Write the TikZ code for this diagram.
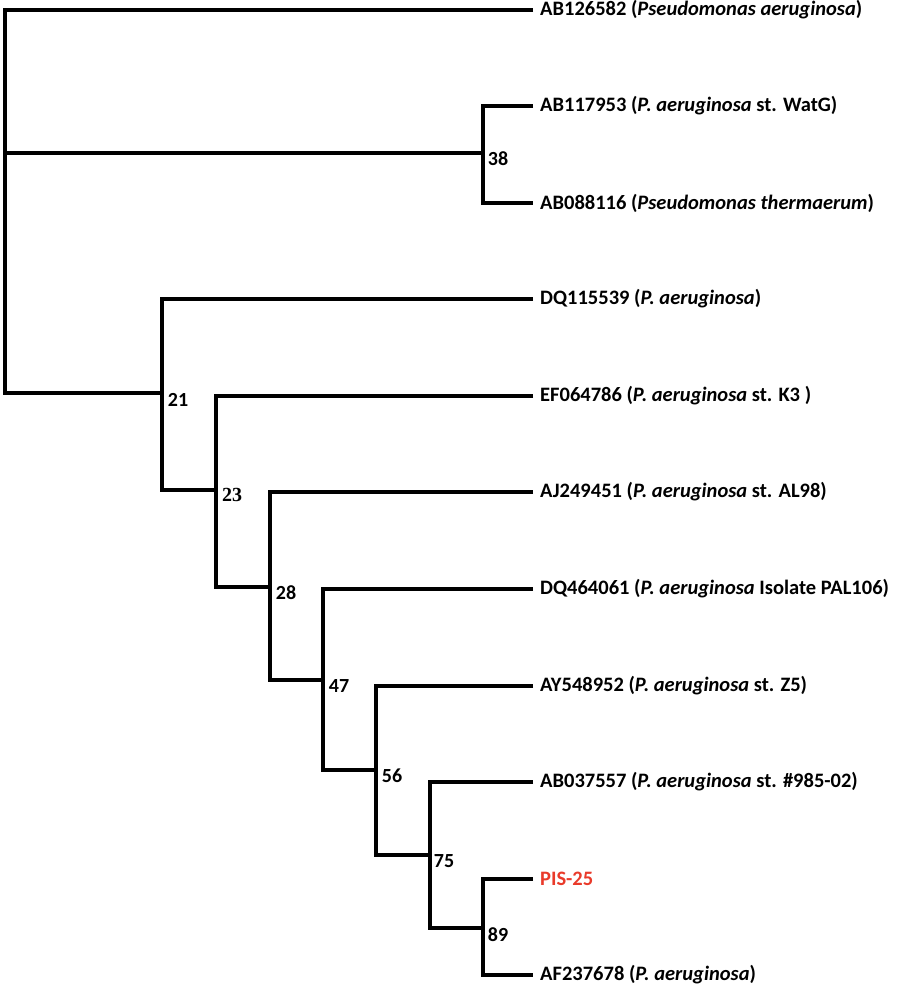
\documentclass[tikz,border=0pt]{standalone}
\usepackage{fontspec}
\setmainfont{Carlito}
\newfontfamily\timesnum{Liberation Serif}
\definecolor{pisred}{RGB}{233,58,42}
\begin{document}
\begin{tikzpicture}[x=1pt,y=-1pt,
  br/.style={line width=3.8pt},
  leaf/.style={anchor=west,inner xsep=7pt,inner ysep=0pt,font=\fontsize{20.5}{23}\selectfont\bfseries},
  bs/.style={anchor=center,inner sep=0pt,font=\fontsize{20}{22}\selectfont\bfseries}]
\useasboundingbox (0,0) rectangle (900,992);
% internal nodes
\coordinate (root) at (5,153);
\coordinate (n38) at (483,153);
\coordinate (n21) at (162,393);
\coordinate (n23) at (216,490);
\coordinate (n28) at (270,587);
\coordinate (n47) at (323,680);
\coordinate (n56) at (376,770);
\coordinate (n75) at (430,855);
\coordinate (n89) at (483,928);
% leaves
\node[leaf] (A) at (533,10) {AB126582 (\textit{Pseudomonas aeruginosa})};
\node[leaf] (B) at (533,106) {AB117953 (\textit{P. aeruginosa} st. WatG)};
\node[leaf] (C) at (533,203) {AB088116 (\textit{Pseudomonas thermaerum})};
\node[leaf] (D) at (533,299) {DQ115539 (\textit{P. aeruginosa})};
\node[leaf] (E) at (533,396) {EF064786 (\textit{P. aeruginosa} st. K3 )};
\node[leaf] (F) at (533,492) {AJ249451 (\textit{P. aeruginosa} st. AL98)};
\node[leaf] (G) at (533,589) {DQ464061 (\textit{P. aeruginosa} Isolate PAL106)};
\node[leaf] (H) at (533,686) {AY548952 (\textit{P. aeruginosa} st. Z5)};
\node[leaf] (I) at (533,782) {AB037557 (\textit{P. aeruginosa} st. \#985-02)};
\node[leaf,text=pisred] (P) at (533,879) {PIS-25};
\node[leaf] (K) at (533,975) {AF237678 (\textit{P. aeruginosa})};
% branches
\draw[br] (A.west) -| (root) |- (n21);
\draw[br] (root) -- (n38);
\draw[br] (B.west) -| (n38) |- (C.west);
\draw[br] (D.west) -| (n21) |- (n23);
\draw[br] (E.west) -| (n23) |- (n28);
\draw[br] (F.west) -| (n28) |- (n47);
\draw[br] (G.west) -| (n47) |- (n56);
\draw[br] (H.west) -| (n56) |- (n75);
\draw[br] (I.west) -| (n75) |- (n89);
\draw[br] (P.west) -| (n89) |- (K.west);
% bootstrap values
\node[bs] (b38) at (498,159) {38};
\node[bs] (b21) at (178,400) {21};
\node[bs,font=\fontsize{20}{22}\selectfont\timesnum\bfseries] (b23) at (232,495) {23};
\node[bs] (b28) at (286,593) {28};
\node[bs] (b47) at (339,686) {47};
\node[bs] (b56) at (392,776) {56};
\node[bs] (b75) at (444,861) {75};
\node[bs] (b89) at (498,935) {89};
\end{tikzpicture}
\end{document}
